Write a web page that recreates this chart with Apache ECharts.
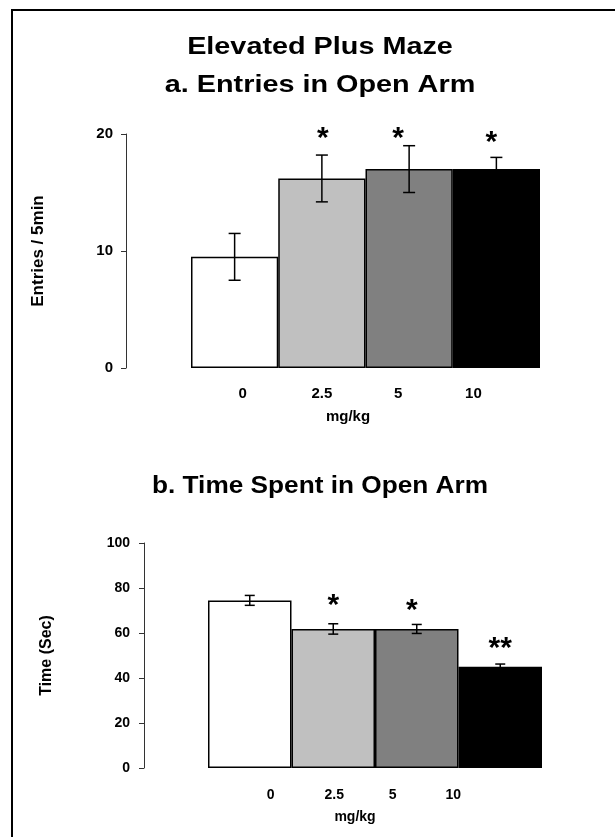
<!DOCTYPE html>
<html>
<head>
<meta charset="utf-8">
<title>Elevated Plus Maze</title>
<script src="https://cdn.jsdelivr.net/npm/echarts@6/dist/echarts.min.js"></script>
</head>
<body style="margin:0">
<div id="main" style="width:615px;height:837px"></div>
<script>
var doses = ['0', '2.5', '5', '10'];
var barColors = ['#ffffff', '#c0c0c0', '#808080', '#000000'];

// a. entries in open arm
var entriesMean = [9.5, 16.2, 17.0, 17.0];
var entriesErr = [2.0, 2.0, 2.0, 1.0];
var entriesSig = ['', '*', '*', '*'];
var entriesSigY = [null, 20.2, 20.2, 19.85];

// b. time spent in open arm
var timeMean = [74.5, 61.8, 61.8, 45.0];
var timeErr = [2.2, 2.3, 2.0, 1.2];
var timeSig = ['', '*', '*', '**'];
var timeSigY = [null, 75.4, 72.9, 56.1];

// small pixel nudges to match the original figure
var labelShift1 = [8, 0, -11, -23];
var labelShift2 = [21, 1, -24, -47];
var sigShift1 = [1, 1, -11, -5];
var sigShift2 = [2, 0, -5, 0];

var FONT = "'Liberation Sans', Arial, sans-serif";

var chart = echarts.init(document.getElementById('main'));

function shiftedLabels(shifts, size) {
  var rich = {};
  shifts.forEach(function (d, i) {
    rich['s' + i] = {
      fontSize: size, fontWeight: 'bold', fontFamily: FONT, color: '#000',
      padding: d >= 0 ? [0, 0, 0, 2 * d] : [0, -2 * d, 0, 0]
    };
  });
  return {
    margin: 18,
    formatter: function (v, i) { return '{s' + i + '|' + v + '}'; },
    rich: rich
  };
}

function barSeries(idx, means) {
  return {
    type: 'bar', xAxisIndex: idx, yAxisIndex: idx,
    barWidth: '100%',
    data: means.map(function (v, i) {
      return { value: v, itemStyle: { color: barColors[i] } };
    }),
    itemStyle: { borderColor: '#000', borderWidth: 1.5 },
    silent: true
  };
}

function errSeries(idx, means, errs, cap) {
  return {
    type: 'custom', xAxisIndex: idx, yAxisIndex: idx, z: 5, silent: true,
    data: means.map(function (m, i) { return [i, m - errs[i], m + errs[i]]; }),
    renderItem: function (params, api) {
      var lo = api.coord([api.value(0), api.value(1)]);
      var hi = api.coord([api.value(0), api.value(2)]);
      var st = { stroke: '#000', lineWidth: 1.5 };
      return {
        type: 'group',
        children: [
          { type: 'line', shape: { x1: lo[0], y1: lo[1], x2: hi[0], y2: hi[1] }, style: st },
          { type: 'line', shape: { x1: hi[0] - cap, y1: hi[1], x2: hi[0] + cap, y2: hi[1] }, style: st },
          { type: 'line', shape: { x1: lo[0] - cap, y1: lo[1], x2: lo[0] + cap, y2: lo[1] }, style: st }
        ]
      };
    }
  };
}

function sigSeries(idx, sigs, sigY, shifts) {
  var data = [];
  sigs.forEach(function (s, i) { if (s) data.push([i, sigY[i], s]); });
  return {
    type: 'custom', xAxisIndex: idx, yAxisIndex: idx, z: 6, silent: true, clip: false,
    data: data,
    renderItem: function (params, api) {
      var i = api.value(0);
      var p = api.coord([i, api.value(1)]);
      return {
        type: 'text',
        x: p[0] + shifts[i], y: p[1] + 7,
        style: {
          text: data[params.dataIndex][2],
          font: 'bold 30px ' + FONT,
          fill: '#000',
          align: 'center', verticalAlign: 'middle',
          textAlign: 'center', textVerticalAlign: 'middle'
        }
      };
    }
  };
}

function titleText(text, x, y, size, sx) {
  return {
    type: 'text', x: x, y: y, scaleX: sx,
    style: {
      text: text, font: 'bold ' + size + 'px ' + FONT, fill: '#000',
      align: 'center', verticalAlign: 'middle',
      textAlign: 'center', textVerticalAlign: 'middle'
    }
  };
}

var xLab1 = shiftedLabels(labelShift1, 15);
var xLab2 = shiftedLabels(labelShift2, 14);
xLab2.margin = 20;

chart.setOption({
  backgroundColor: '#fff',
  animation: false,
  graphic: [
    { type: 'rect', shape: { x: 12, y: 10, width: 700, height: 900 },
      style: { fill: 'none', stroke: '#000', lineWidth: 2 } },
    titleText('Elevated Plus Maze', 320, 47, 24, 1.2),
    titleText('a. Entries in Open Arm', 320, 85, 24, 1.2),
    titleText('b. Time Spent in Open Arm', 320, 487, 23, 1.14)
  ],
  grid: [
    { left: 191, right: 75, top: 134, bottom: 469 },
    { left: 208, right: 73, top: 543, bottom: 69 }
  ],
  xAxis: [
    {
      gridIndex: 0, type: 'category', data: doses,
      axisLine: { show: false }, axisTick: { show: false },
      axisLabel: xLab1,
      name: 'mg/kg', nameLocation: 'middle', nameGap: 41,
      nameTextStyle: { fontSize: 15, fontWeight: 'bold', fontFamily: FONT, color: '#000', padding: [0, 35, 0, 0] }
    },
    {
      gridIndex: 1, type: 'category', data: doses,
      axisLine: { show: false }, axisTick: { show: false },
      axisLabel: xLab2,
      name: 'mg/kg', nameLocation: 'middle', nameGap: 42,
      nameTextStyle: { fontSize: 14, fontWeight: 'bold', fontFamily: FONT, color: '#000', padding: [0, 40, 0, 0] }
    }
  ],
  yAxis: [
    {
      gridIndex: 0, type: 'value', min: 0, max: 20, interval: 10, offset: 65,
      axisLine: { show: true, lineStyle: { color: '#333', width: 1 } },
      axisTick: { show: true, length: 5, lineStyle: { color: '#333' } },
      splitLine: { show: false },
      axisLabel: { fontSize: 15, fontWeight: 'bold', fontFamily: FONT, color: '#000', margin: 13 },
      name: 'Entries / 5min', nameLocation: 'middle', nameRotate: 90, nameGap: 79,
      nameTextStyle: { fontSize: 17, fontWeight: 'bold', fontFamily: FONT, color: '#000' }
    },
    {
      gridIndex: 1, type: 'value', min: 0, max: 100, interval: 20, offset: 64,
      axisLine: { show: true, lineStyle: { color: '#333', width: 1 } },
      axisTick: { show: true, length: 5, lineStyle: { color: '#333' } },
      splitLine: { show: false },
      axisLabel: { fontSize: 14, fontWeight: 'bold', fontFamily: FONT, color: '#000', margin: 14 },
      name: 'Time (Sec)', nameLocation: 'middle', nameRotate: 90, nameGap: 89,
      nameTextStyle: { fontSize: 16, fontWeight: 'bold', fontFamily: FONT, color: '#000' }
    }
  ],
  series: [
    barSeries(0, entriesMean),
    errSeries(0, entriesMean, entriesErr, 6),
    sigSeries(0, entriesSig, entriesSigY, sigShift1),
    barSeries(1, timeMean),
    errSeries(1, timeMean, timeErr, 5),
    sigSeries(1, timeSig, timeSigY, sigShift2)
  ]
});
</script>
</body>
</html>
